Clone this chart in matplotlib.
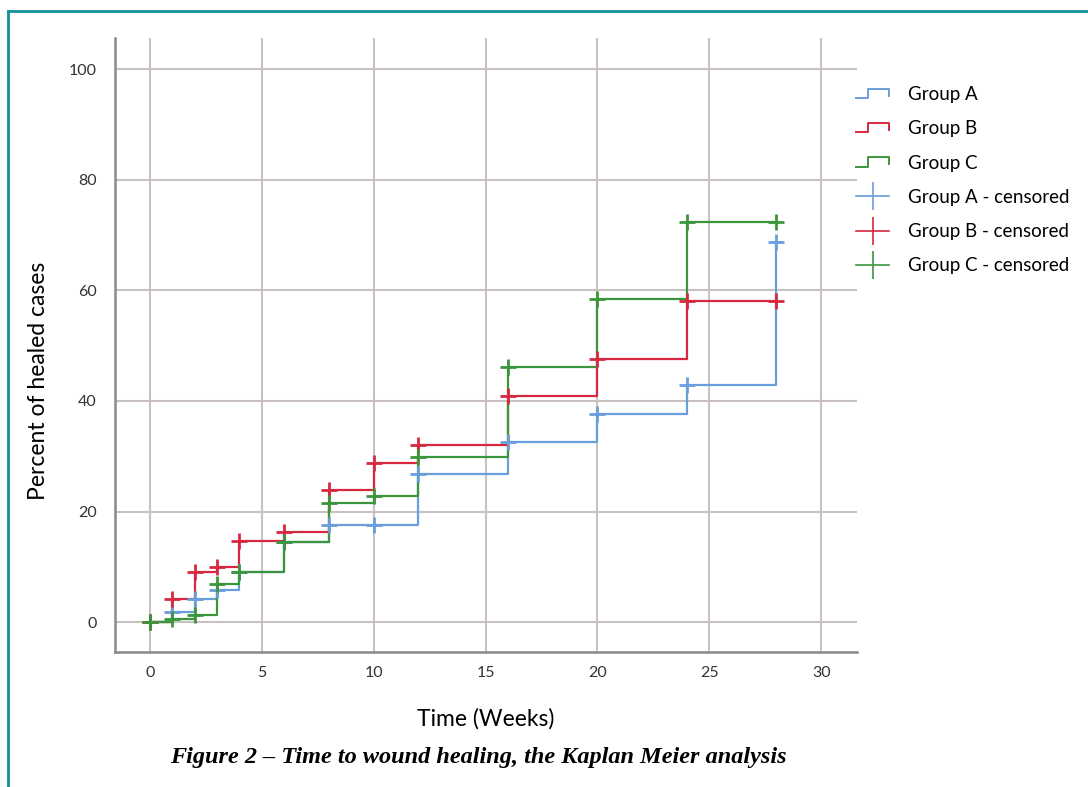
import matplotlib
matplotlib.use("Agg")
import matplotlib.pyplot as plt
from matplotlib.lines import Line2D
from matplotlib.legend_handler import HandlerBase

# datos (semanas / % de casos curados)
weeks = [0, 1, 2, 3, 4, 6, 8, 10, 12, 16, 20, 24, 28]
group_a = [0, 1.8, 4.2, 5.8, 9.0, 14.5, 17.5, 17.5, 26.8, 32.6, 37.7, 42.9, 68.8]
group_b = [0, 4.1, 9.0, 10.0, 14.7, 16.3, 23.9, 28.8, 32.0, 40.9, 47.5, 58.0, 58.0]
group_c = [0, 0.6, 1.3, 6.9, 9.1, 14.5, 21.5, 22.8, 29.9, 46.2, 58.5, 72.4, 72.4]
names = ["Group A", "Group B", "Group C"]
x_ticks = [0, 5, 10, 15, 20, 25, 30]
y_ticks = [0, 20, 40, 60, 80, 100]

colores = ["#6a9ddb", "#d8283f", "#3b963b"]

plt.rcParams['font.family'] = ['Lato', 'DejaVu Sans']

fig = plt.figure(figsize=(10.88, 7.87), dpi=100)
ax = fig.add_axes([0.1057, 0.1715, 0.682, 0.780])

for vals, c in zip([group_a, group_b, group_c], colores):
    ax.step(weeks, vals, where="post", color=c, lw=1.6, zorder=3)
    ax.plot(weeks, vals, ls="none", marker="+", ms=12, mew=2, color=c, zorder=4)

ax.set_xlim(-1.56, 31.6)
ax.set_ylim(-5.4, 105.6)
ax.set_xticks(x_ticks)
ax.set_yticks(y_ticks)
ax.tick_params(length=0, labelsize=11.5, labelcolor="#333333", pad=10)
ax.tick_params(axis="y", pad=13)
ax.grid(True, color="#c9c1c1", lw=1.5)
ax.set_axisbelow(True)
for s in ["top", "right"]:
    ax.spines[s].set_visible(False)
for s in ["left", "bottom"]:
    ax.spines[s].set_color("#8c8888")
    ax.spines[s].set_linewidth(1.8)

ax.set_xlabel("Time (Weeks)", fontsize=16.5, labelpad=20)
ax.set_ylabel("Percent of healed cases", fontsize=16.5)
ax.yaxis.set_label_coords(-0.089, 0.441)


# icono escalonado para la leyenda
class StepHandler(HandlerBase):
    def create_artists(self, legend, orig_handle, xdescent, ydescent,
                       width, height, fontsize, trans):
        xs = [0, 0.35 * width, 0.35 * width, width, width]
        ys = [0.15 * height, 0.15 * height, 0.85 * height, 0.85 * height, 0.35 * height]
        ln = Line2D([x - xdescent for x in xs], [y - ydescent for y in ys],
                    color=orig_handle.get_color(), lw=1.4, transform=trans)
        return [ln]


handles = [Line2D([], [], color=c) for c in colores]
labels = list(names)
hmap = {h: StepHandler() for h in handles}
for c, n in zip(colores, names):
    handles.append(Line2D([], [], lw=1.2, marker="|", ms=20, mew=1.2, color=c))
    labels.append(n + " - censored")

fig.legend(handles, labels, handler_map=hmap, loc="upper left",
           bbox_to_anchor=(0.771, 0.912), frameon=False, fontsize=13.5,
           handlelength=1.8, handletextpad=1.0, labelspacing=0.92)

fig.text(0.44, 0.038, "Figure 2 \u2013 Time to wound healing, the Kaplan Meier analysis",
         ha="center", va="center", fontsize=17.5, fontweight="bold", style="italic",
         family="Liberation Serif")

# marco de la figura
fig.add_artist(Line2D([8 / 1088, 8 / 1088], [0, 1 - 11 / 787], color="#14909a", lw=2))
fig.add_artist(Line2D([8 / 1088, 1], [1 - 11 / 787, 1 - 11 / 787], color="#14909a", lw=2))

fig.savefig("out.png", dpi=100)
